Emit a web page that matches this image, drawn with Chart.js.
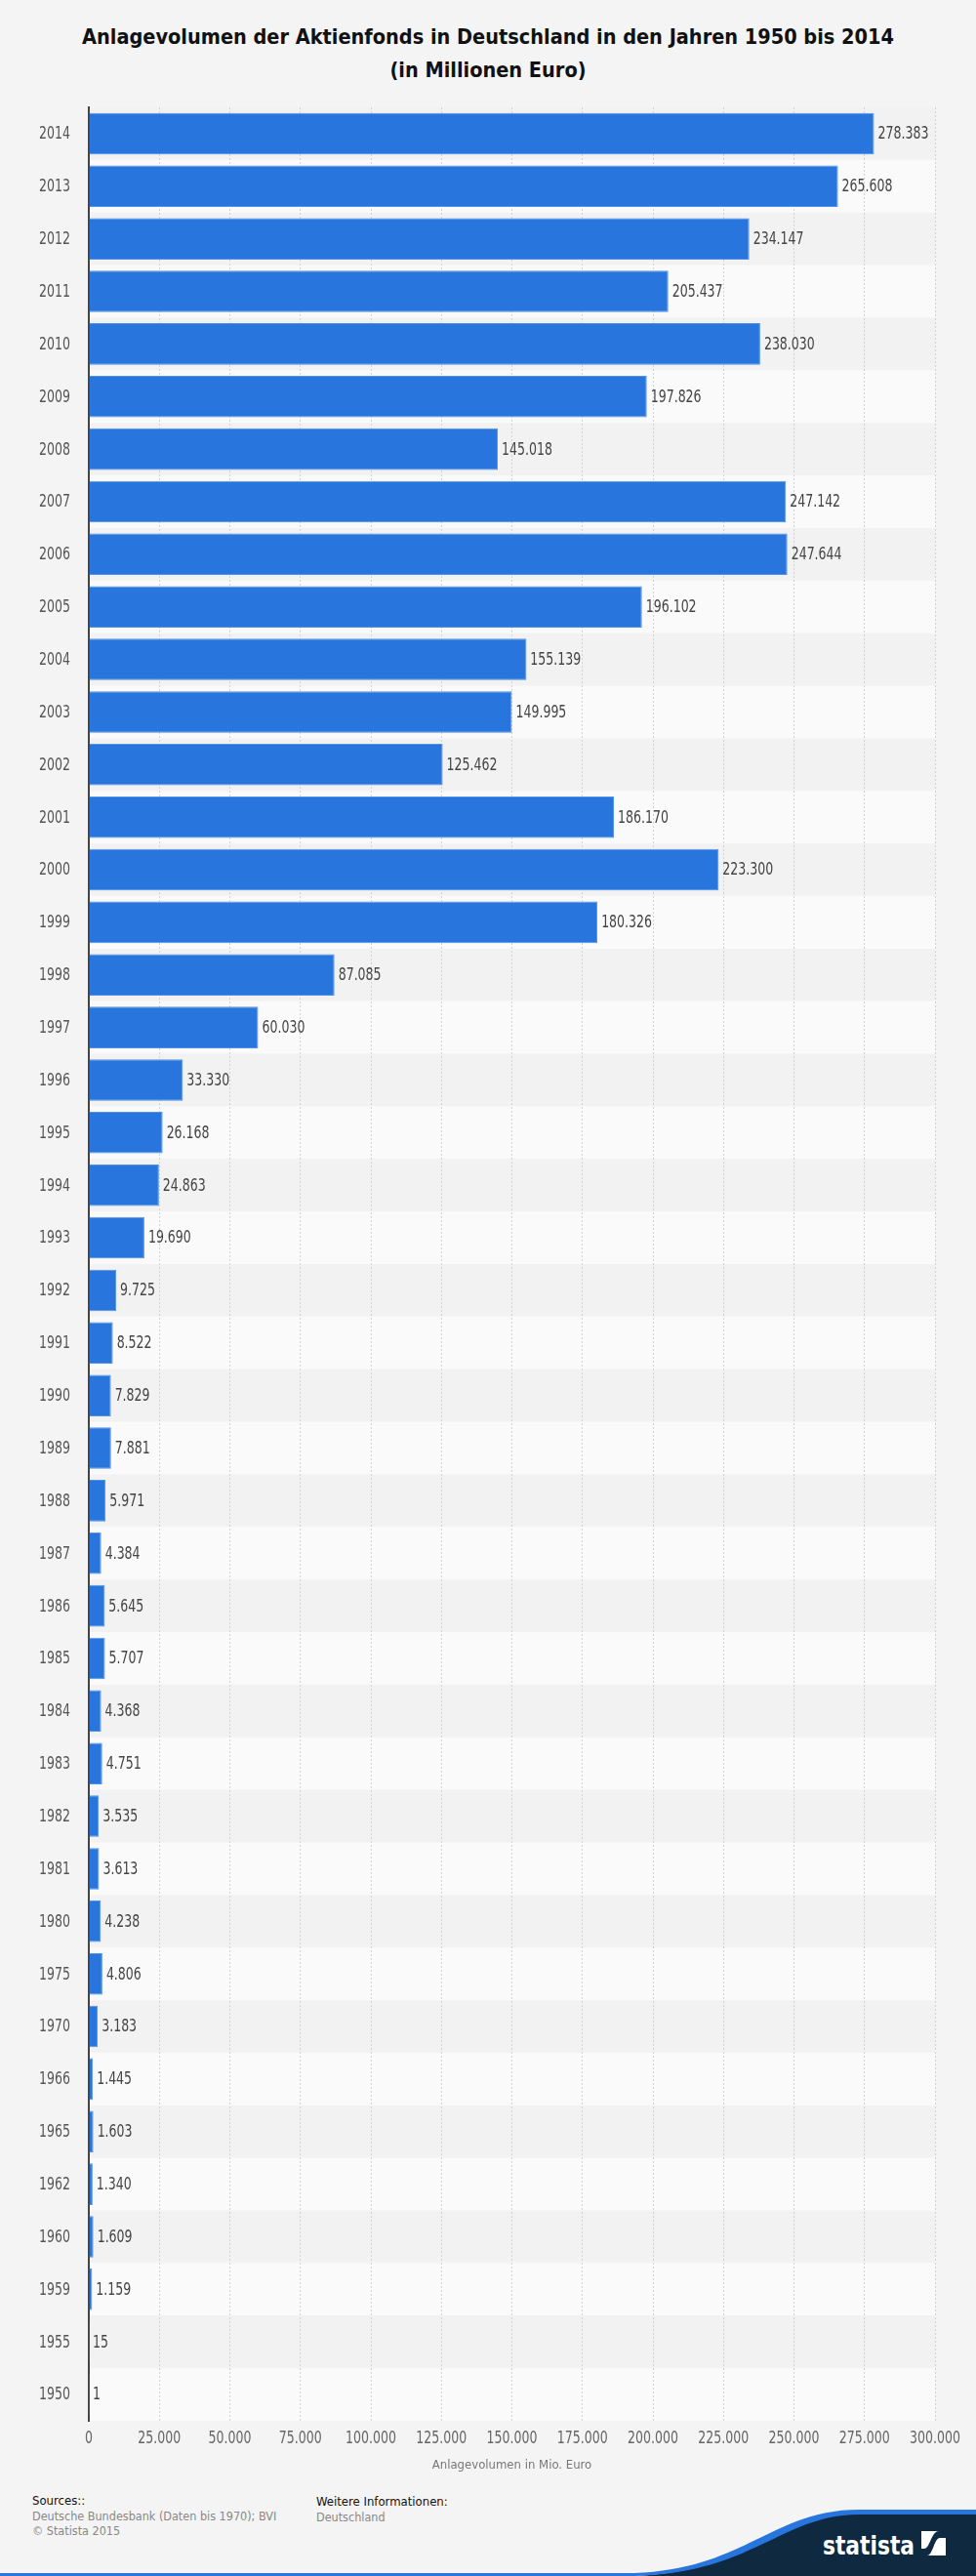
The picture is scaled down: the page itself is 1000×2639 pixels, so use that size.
<!DOCTYPE html>
<html>
<head>
<meta charset="utf-8">
<script src="https://cdn.jsdelivr.net/npm/chart.js@4"></script>
<style>
    body { margin: 0; background: #f4f4f4; width: 1000px; height: 2639px; position: relative; overflow: hidden;
           font-family: 'DejaVu Sans Condensed', 'DejaVu Sans', sans-serif; }
    #title { position: absolute; top: 21px; left: 0; width: 1000px; text-align: center; font-weight: bold;
             font-size: 21.5px; line-height: 34px; color: #111; }
    #wrap { position: absolute; top: 84px; left: 0; width: 1000px; height: 2466px; }
    .foot { position: absolute; font-size: 12.5px; line-height: 15.5px; color: #888; }
    .foot b { font-weight: normal; color: #111; font-size: 13px; }
    #logo { position: absolute; left: 0; top: 2560px; }
</style>
</head>
<body>
<div id="title">Anlagevolumen der Aktienfonds in Deutschland in den Jahren 1950 bis 2014<br>(in Millionen Euro)</div>
<div id="wrap"><canvas id="chart"></canvas></div>
<div class="foot" style="left:33px; top:2554px;"><b>Sources::</b><br>Deutsche Bundesbank (Daten bis 1970); BVI<br>© Statista 2015</div>
<div class="foot" style="left:324px; top:2555px;"><b>Weitere Informationen:</b><br>Deutschland</div>
<svg id="logo" width="1000" height="79" viewBox="0 2560 1000 79">
    <path d="M640 2639 C760 2639 800 2575 880 2575 L1000 2575 L1000 2639 Z" fill="#0f2a40"/>
    <path d="M0 2636 L640 2636 C760 2636 790 2571 880 2571 L1000 2571 L1000 2576 L880 2576 C800 2576 770 2639 640 2639 L0 2639 Z" fill="#2876dd"/>
    <text x="843" y="2617" fill="#fff" font-size="26" font-weight="bold" textLength="94" lengthAdjust="spacingAndGlyphs"
          font-family="'DejaVu Sans Condensed',sans-serif">statista</text>
    <rect x="944" y="2593" width="25" height="25" fill="#fff"/>
    <path d="M944 2618 L950 2618 C956 2618 957 2600 963 2600 L969 2600 L969 2593 L962 2593 C954 2593 953 2611 947 2611 L944 2611 Z" fill="#0f2a40"/>
</svg>
<script>
const years = ['2014', '2013', '2012', '2011', '2010', '2009', '2008', '2007', '2006', '2005',
    '2004', '2003', '2002', '2001', '2000', '1999', '1998', '1997', '1996', '1995',
    '1994', '1993', '1992', '1991', '1990', '1989', '1988', '1987', '1986', '1985',
    '1984', '1983', '1982', '1981', '1980', '1975', '1970', '1966', '1965', '1962',
    '1960', '1959', '1955', '1950'];

const volumes = [278383, 265608, 234147, 205437, 238030, 197826, 145018, 247142, 247644, 196102,
    155139, 149995, 125462, 186170, 223300, 180326, 87085, 60030, 33330, 26168,
    24863, 19690, 9725, 8522, 7829, 7881, 5971, 4384, 5645, 5707,
    4368, 4751, 3535, 3613, 4238, 4806, 3183, 1445, 1603, 1340,
    1609, 1159, 15, 1];

const xTicks = [0, 25000, 50000, 75000, 100000, 125000, 150000, 175000, 200000, 225000, 250000, 275000, 300000];

const FONT = "'DejaVu Sans Condensed', 'DejaVu Sans', sans-serif";
const SQUEEZE = 0.82; // reference uses a narrower face than what is installed

// German number format: 278.383
function fmt(v) {
    return String(v).replace(/\B(?=(\d{3})+(?!\d))/g, '.');
}

function narrowText(ctx, text, x, y, align) {
    ctx.save();
    ctx.translate(x, y);
    ctx.scale(SQUEEZE, 1);
    ctx.textAlign = align;
    ctx.fillText(text, 0, 0);
    ctx.restore();
}

// alternating row backgrounds
const bandPlugin = {
    id: 'bands',
    beforeDraw(chart) {
        const { ctx, chartArea, scales } = chart;
        const y = scales.y;
        const step = (chartArea.bottom - chartArea.top) / years.length;
        ctx.save();
        years.forEach((yr, i) => {
            ctx.fillStyle = i % 2 === 0 ? '#f2f2f2' : '#fafafa';
            const c = y.getPixelForValue(i);
            ctx.fillRect(chartArea.left, c - step / 2, chartArea.right - chartArea.left, step);
        });
        ctx.restore();
    }
};

// value labels at bar ends + narrow tick labels
const labelPlugin = {
    id: 'labels',
    afterDatasetsDraw(chart) {
        const { ctx, chartArea, scales } = chart;
        const meta = chart.getDatasetMeta(0);
        ctx.save();
        ctx.font = '17px ' + FONT;
        ctx.textBaseline = 'middle';

        ctx.fillStyle = '#444';
        meta.data.forEach((bar, i) => {
            narrowText(ctx, fmt(volumes[i]), bar.x + 4, bar.y + 1, 'left');
        });

        ctx.fillStyle = '#555';
        years.forEach((yr, i) => {
            narrowText(ctx, yr, chartArea.left - 19, scales.y.getPixelForValue(i) + 1, 'right');
        });

        ctx.fillStyle = '#666';
        xTicks.forEach(v => {
            narrowText(ctx, fmt(v), scales.x.getPixelForValue(v), chartArea.bottom + 19, 'center');
        });
        ctx.restore();
    }
};

new Chart(document.getElementById('chart'), {
    type: 'bar',
    data: {
        labels: years,
        datasets: [{
            data: volumes,
            backgroundColor: '#2876dd',
            borderColor: '#4f91e6',
            borderWidth: 1,
            categoryPercentage: 1,
            barPercentage: 0.79
        }]
    },
    plugins: [bandPlugin, labelPlugin],
    options: {
        indexAxis: 'y',
        responsive: true,
        maintainAspectRatio: false,
        animation: false,
        layout: { padding: { top: 26, right: 42, bottom: 8, left: 0 } },
        plugins: {
            legend: { display: false },
            tooltip: { enabled: false }
        },
        scales: {
            x: {
                min: 0,
                max: 300000,
                afterBuildTicks(scale) {
                    scale.ticks = xTicks.map(v => ({ value: v }));
                },
                afterFit(scale) { scale.height = 62; },
                ticks: { display: false },
                grid: {
                    color: '#d2d2d2',
                    drawTicks: false
                },
                border: { display: false, dash: [2, 2] },
                title: {
                    display: true,
                    text: 'Anlagevolumen in Mio. Euro',
                    color: '#777',
                    font: { family: FONT, size: 13 },
                    padding: { top: 4, bottom: 9 }
                }
            },
            y: {
                afterFit(scale) { scale.width = 91; },
                ticks: { display: false },
                grid: { display: false, drawTicks: false },
                border: { display: true, color: '#444', width: 2 }
            }
        }
    }
});
</script>
</body>
</html>
